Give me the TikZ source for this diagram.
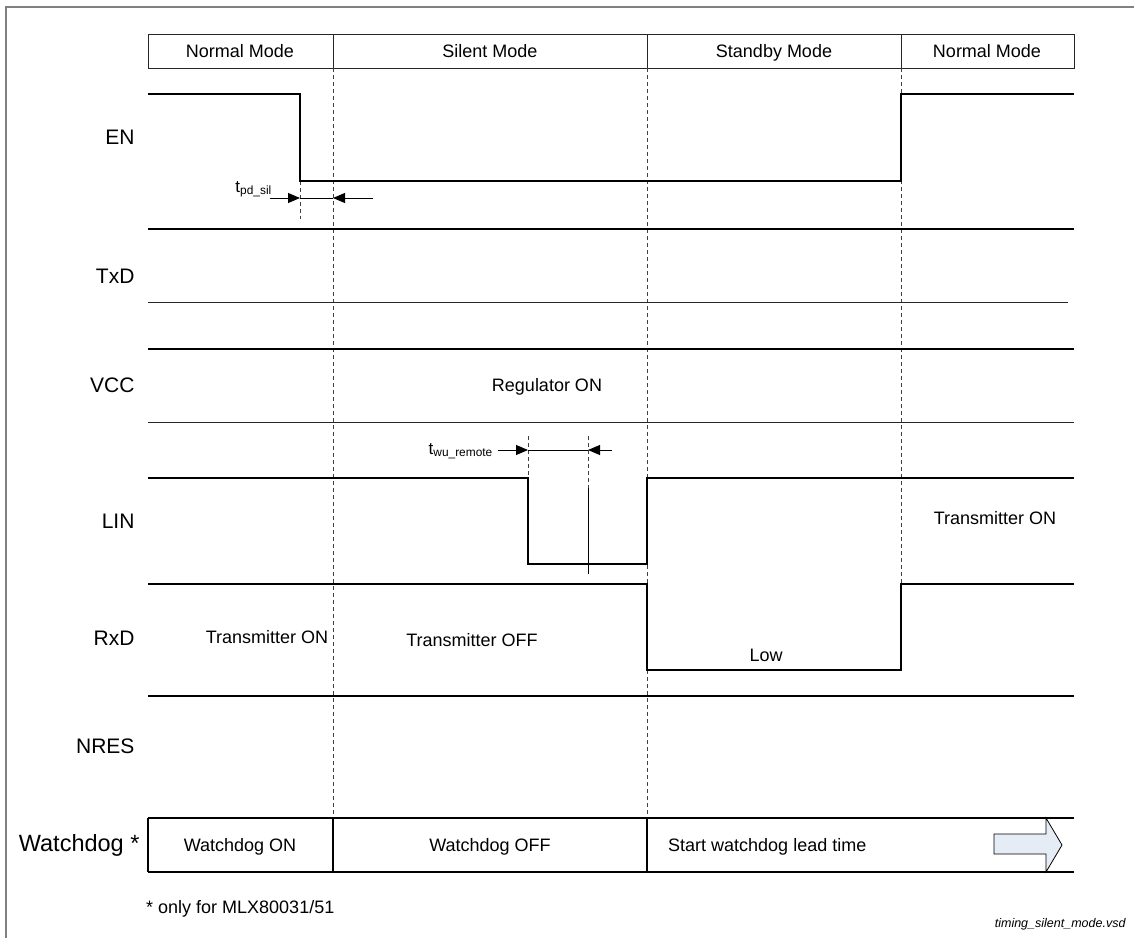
\documentclass[tikz,border=0pt]{standalone}
\usepackage{fontspec}
\setmainfont{Liberation Sans}
\usetikzlibrary{arrows.meta, positioning}
\definecolor{leadfill}{RGB}{230,236,246}

\begin{document}
\begin{tikzpicture}[
        x=1pt, y=-1pt,
        signal/.style={draw=black, line width=1.6pt},
        rail/.style={draw=black!85, line width=1pt},
        guide/.style={draw=black!75, dash pattern=on 4pt off 3pt, line width=0.8pt},
        frameline/.style={draw=black!50, line width=1.5pt},
        rowlabel/.style={anchor=east, font=\fontsize{21}{25}\selectfont},
        modetext/.style={font=\fontsize{18}{22}\selectfont, text height=15pt, text depth=2.2pt, inner sep=0pt},
        measure/.style={-{Triangle[length=12pt,width=10pt]}, line width=0.9pt},
        timelabel/.style={font=\fontsize{17}{20}\selectfont, inner sep=1pt},
        leadarrow/.style={draw=black, fill=leadfill, line width=0.8pt}
    ]
    \useasboundingbox (0,0) rectangle (1134,938);

    % FRAME
    \draw[frameline] (6,938) -- (6,7) -- (1134,7);

    % MODE HEADER
    \draw[rail] (148,34) rectangle (1074,68);
    \foreach \x in {333,647,901}
        \draw[rail] (\x,34) -- (\x,68);
    \node[modetext] (hnorm1) at (240,51) {Normal Mode};
    \node[modetext] (hsil) at (490,51) {Silent Mode};
    \node[modetext] (hstby) at (774,51) {Standby Mode};
    \node[modetext] (hnorm2) at (987,51) {Normal Mode};

    % MODE BOUNDARIES
    \draw[guide] (333,68) -- (333,818);
    \draw[guide] (647,68) -- (647,818);
    \draw[guide] (901,68) -- (901,584);
    \draw[guide] (300,181) -- (300,219);
    \draw[guide] (528,436) -- (528,478);
    \draw[guide] (588,436) -- (588,490);

    % ROW LABELS
    \node[rowlabel] (en) at (138,137) {EN};
    \node[rowlabel] (txd) at (138,276) {TxD};
    \node[rowlabel] (vcc) at (138,385) {VCC};
    \node[rowlabel] (lin) at (138,521) {LIN};
    \node[rowlabel] (rxd) at (138,638) {RxD};
    \node[rowlabel] (nres) at (138,746) {NRES};
    \node[rowlabel, font=\fontsize{23.5}{27}\selectfont] (wdog) at (143,845) {Watchdog *};

    % EN
    \draw[signal] (148,94) -- (300,94) -- (300,181) -- (901,181) -- (901,94) -- (1074,94);
    \coordinate (pdA) at (300,198);
    \coordinate (pdB) at (333,198);
    \node[timelabel, anchor=base east] (tpd) at (273,192) {t\textsubscript{pd\_sil}};
    \draw[measure] (pdA) ++(-30,0) -- (pdA);
    \draw[line width=0.9pt] (pdA) -- (pdB);
    \draw[measure] (pdB) ++(40,0) -- (pdB);

    % TXD
    \draw[signal] (148,229) -- (1074,229);
    \draw[rail] (148,302) -- (1068,302);

    % VCC
    \draw[signal] (148,349) -- (1074,349);
    \draw[rail] (148,422) -- (1074,422);
    \node[modetext] (reg) at (547,385) {Regulator ON};

    % LIN
    \draw[signal] (148,478) -- (528,478) -- (528,564) -- (647,564) -- (647,478) -- (1074,478);
    \draw[line width=1pt] (588,488) -- (588,574);
    \coordinate (wuA) at (528,450);
    \coordinate (wuB) at (588,450);
    \node[timelabel, anchor=base east] (twu) at (494,454) {t\textsubscript{wu\_remote}};
    \draw[measure] (wuA) ++(-30,0) -- (wuA);
    \draw[line width=0.9pt] (wuA) -- (wuB);
    \draw[measure] (wuB) ++(24,0) -- (wuB);
    \node[modetext] (lintx) at (995,518) {Transmitter ON};

    % RXD
    \draw[signal] (148,584) -- (647,584) -- (647,670) -- (901,670) -- (901,584) -- (1074,584);
    \node[modetext] (rxon) at (267,637) {Transmitter ON};
    \node[modetext] (rxoff) at (472,640) {Transmitter OFF};
    \node[modetext] (rxlow) at (766,655) {Low};

    % NRES
    \draw[signal] (148,696) -- (1074,696);

    % WATCHDOG
    \draw[signal] (148,818) -- (1074,818);
    \draw[signal] (148,872) -- (1074,872);
    \foreach \x in {148,333,647}
        \draw[line width=1.2pt] (\x,818) -- (\x,872);
    \node[modetext] (wdon) at (240,845) {Watchdog ON};
    \node[modetext] (wdoff) at (490,845) {Watchdog OFF};
    \node[modetext, anchor=west] (wdlead) at (668,845) {Start watchdog lead time};
    \draw[leadarrow] (994,834) -- (1046,834) -- (1046,818) -- (1062,845)
        -- (1046,872) -- (1046,854) -- (994,854) -- cycle;

    % NOTES
    \node[modetext, anchor=west] (note) at (146,907) {* only for MLX80031/51};
    \node[font=\fontsize{12.5}{14}\selectfont\itshape, anchor=east] (file) at (1129,924) {timing\_silent\_mode.vsd};

\end{tikzpicture}
\end{document}
